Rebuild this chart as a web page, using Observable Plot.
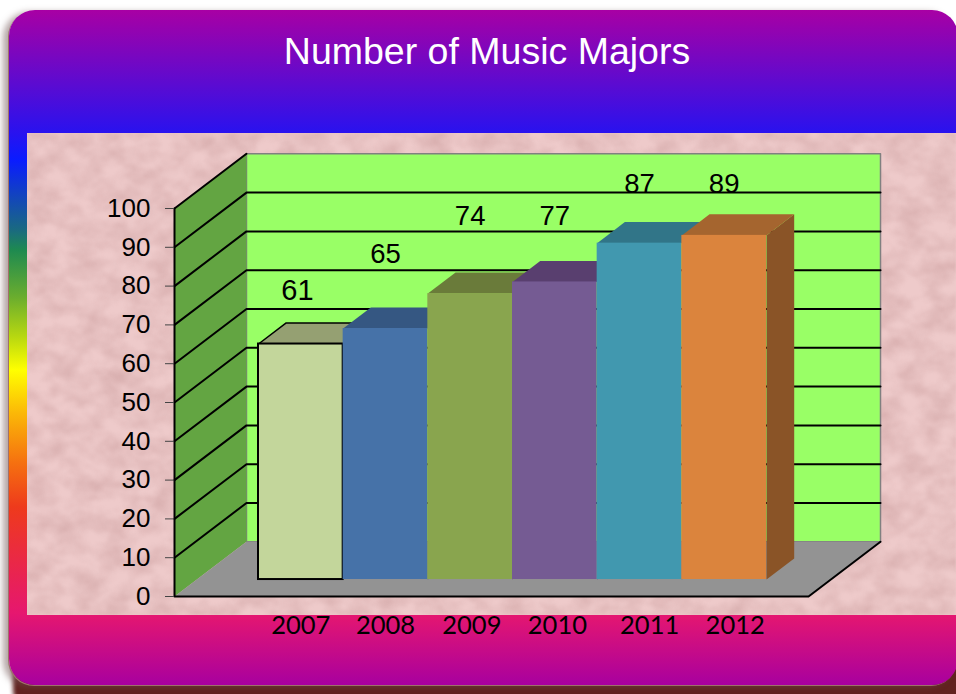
<!DOCTYPE html>
<html>
<head>
<meta charset="utf-8">
<script src="https://cdn.jsdelivr.net/npm/d3@7"></script>
<script src="https://cdn.jsdelivr.net/npm/@observablehq/plot@0.6"></script>
<style>
  html, body { margin: 0; padding: 0; background: #fff; overflow: hidden; }
  #stage { position: relative; width: 956px; height: 694px; overflow: hidden; }
  #shadow { position: absolute; left: 13px; top: 30px; width: 960px; height: 680px; border-radius: 20px; background: #62221f; filter: blur(2px); }
  #card {
    position: absolute; left: 9px; top: 10px; width: 949px; height: 675px; border-radius: 26px;
    background: linear-gradient(to bottom,
      #a800a4 0px, #2a12ee 122px, #0a1cff 150px, #1a6a80 220px, #1e8a50 240px, #6aad2e 287px, #b8d810 327px,
      #ffff00 360px, #fbb807 403px, #f57010 453px, #ee3a1c 497px, #e6176f 603px, #a8009f 675px);
    box-shadow: -1px 1px 0 #a0706a, -6px 2px 6px rgba(110,80,80,.5);
  }
  #panel { position: absolute; left: 27px; top: 133px; width: 929px; height: 482px; }
  #title {
    position: absolute; left: 0; top: 30px; width: 974px; margin: 0; text-align: center;
    font: 400 37.5px "Liberation Sans", Arial, sans-serif; color: #fff;
  }
  #chart { position: absolute; left: 0; top: 0; }
</style>
</head>
<body>
<div id="stage">
  <div id="shadow"></div>
  <div id="card"></div>
  <div id="panel"></div>
  <h1 id="title">Number of Music Majors</h1>
  <div id="chart"></div>
</div>
<script>
const years = ["2007", "2008", "2009", "2010", "2011", "2012"];
const majors = [61, 65, 74, 77, 87, 89];
const yTicks = [0, 10, 20, 30, 40, 50, 60, 70, 80, 90, 100];
const frontColors = ["#c3d69b", "#4672a8", "#89a54e", "#755b93", "#4198af", "#db843d"];
const topColors = ["#95a072", "#355782", "#6a7b3a", "#593f6f", "#317588", "#a5652f"];
const sideColors = ["#8a9468", "#2f4f75", "#5f6e34", "#4f3863", "#2c697a", "#8a5427"];
const labelRaise = [17.9, 23.2, 24.0, 21.0, 19.3, 17.2];
const labelShift = [-0.04, 0, 0, 0, 0, 0];
const yearShift = [0, 0, 0.02, 0.03, 0.12, 0.13];

// Oblique projection: a point is (slot, value, depth), depth 0 = front, 1 = back wall.
const kx = 0.85, ky = 14.1, barDepth0 = 0.31, barDepth1 = 0.695, barInset = 0.3;
const uLeft = -0.7285, uRight = 6.76;
const px = (u, d) => u + (d - barDepth0) * kx;
const py = (v, d) => v + d * ky;
const pts = (list) => list.map(([u, v, d]) => ({x: px(u, d), y: py(v, d)}));
const poly = (list, o) => Plot.line(pts(list), {x: "x", y: "y", ...o});

const marks = [];
// walls and floor
marks.push(poly([[uLeft,0,1],[uRight,0,1],[uRight,100,1],[uLeft,100,1],[uLeft,0,1]], {fill: "#99ff66", stroke: "#808080", strokeWidth: 1.5}));
marks.push(poly([[uLeft,0,0],[uLeft,0,1],[uLeft,100,1],[uLeft,100,0]], {fill: "#63a542", stroke: "none"}));
marks.push(poly([[uLeft,0,0],[uLeft,0,1],[uRight,0,1],[uRight,0,0]], {fill: "#939393", stroke: "none"}));
// grid lines
for (const v of yTicks.filter(t => t > 0 && t < 100)) {
  marks.push(poly([[uLeft,v,0],[uLeft,v,1],[uRight,v,1]], {stroke: "#000", strokeWidth: 2}));
}
marks.push(poly([[uLeft,100,0],[uLeft,100,1]], {stroke: "#000", strokeWidth: 2}));
marks.push(poly([[uLeft,100,0],[uLeft,0,0],[uRight,0,0],[uRight,0,1]], {stroke: "#000", strokeWidth: 2}));
// bars, left to right
majors.forEach((value, i) => {
  const v = value - barInset, a = i, b = i + 1;
  const edge = i === 0 ? {stroke: "#000", strokeWidth: 1.5} : {stroke: "none"};
  marks.push(poly([[b,0,barDepth0],[b,0,barDepth1],[b,v,barDepth1],[b,v,barDepth0]], {fill: sideColors[i], stroke: "none"}));
  marks.push(poly([[a,v,barDepth0],[a,v,barDepth1],[b,v,barDepth1],[b,v,barDepth0],[a,v,barDepth0]], {fill: topColors[i], ...edge}));
  marks.push(Plot.rect([0], {
    x1: () => px(a, barDepth0), x2: () => px(b, barDepth0),
    y1: () => py(0, barDepth0), y2: () => py(v, barDepth0),
    fill: frontColors[i], ...(i === 0 ? {stroke: "#000", strokeWidth: 2} : {})
  }));
});
// axis
marks.push(Plot.axisY({ticks: yTicks, tickFormat: d => d, tickSize: 9, tickPadding: 15, label: null, stroke: "#444", fontSize: 26, fill: "#000", fontFamily: "Liberation Sans"}));
// value labels
majors.forEach((v, i) => {
  marks.push(Plot.text([String(v)], {
    x: () => i + 0.5 + labelShift[i], y: () => v + labelRaise[i], text: d => d,
    fill: "#000", fontSize: i === 0 ? 29 : 27.5, fontFamily: "Liberation Sans"
  }));
});
// year labels
marks.push(Plot.text(years, {
  x: (d, i) => i + 0.5 + yearShift[i], y: () => 0, dy: 29, text: d => d,
  fill: "#000", fontSize: 25.5, fontFamily: "Lato"
}));

const noise = `<svg xmlns="http://www.w3.org/2000/svg" width="929" height="482"><filter id="n" x="0" y="0" width="100%" height="100%" color-interpolation-filters="sRGB"><feTurbulence type="fractalNoise" baseFrequency="0.04 0.055" numOctaves="3" seed="7"/><feColorMatrix values="0 0 0 0 0.78 0 0 0 0 0.6 0 0 0 0 0.6 0.9 0 0 0 -0.28"/><feGaussianBlur stdDeviation="1"/></filter><rect width="929" height="482" fill="#eecaca"/><rect width="929" height="482" filter="url(#n)"/></svg>`;
document.getElementById("panel").style.background = `url("data:image/svg+xml,${encodeURIComponent(noise)}")`;

const chart = Plot.plot({
  width: 956, height: 694,
  marginLeft: 174, marginRight: 76, marginTop: 208, marginBottom: 98,
  style: {background: "transparent", overflow: "visible"},
  x: {type: "linear", domain: [0, 6], range: [258, 766], axis: null},
  y: {type: "linear", domain: [0, 100], axis: null},
  marks
});
document.getElementById("chart").append(chart);
</script>
</body>
</html>
